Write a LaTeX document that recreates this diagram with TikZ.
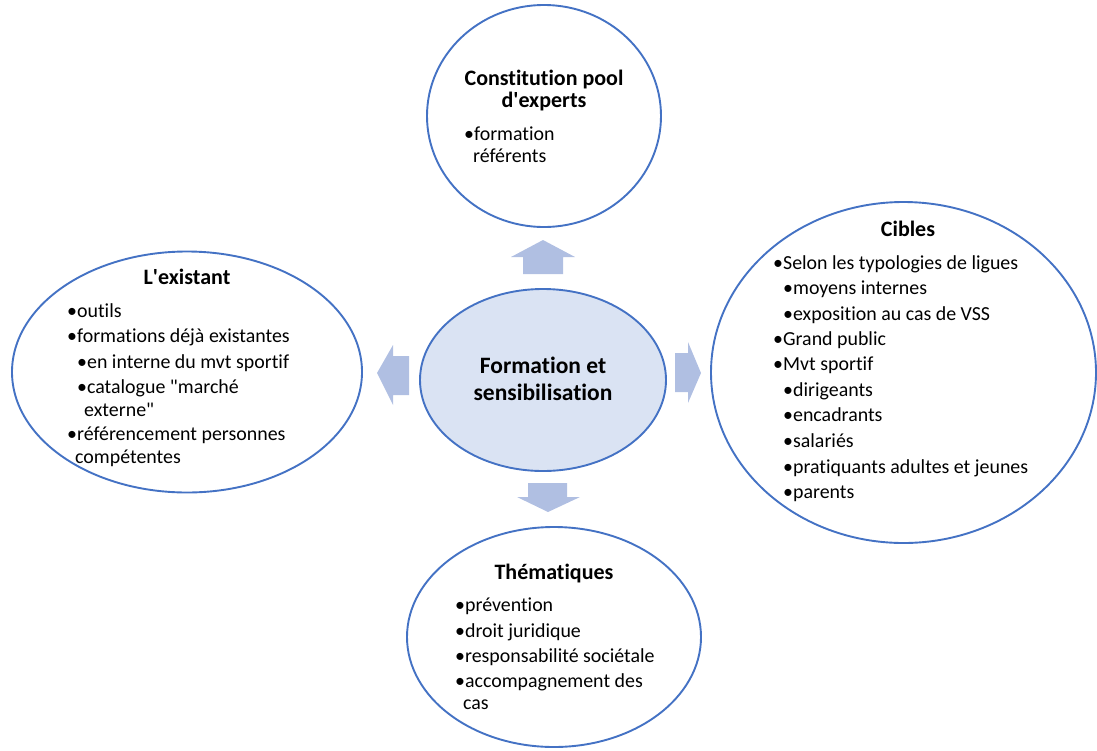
\documentclass[tikz,border=0pt]{standalone}
\usepackage{fontspec}
\setmainfont{Carlito}[Ligatures={NoCommon}]
\usetikzlibrary{shapes.geometric}
\definecolor{edgeblue}{HTML}{4472C4}
\definecolor{centerfill}{HTML}{DAE3F3}
\definecolor{arrowfill}{HTML}{B0BFE2}
\tikzset{
  bubble/.style={ellipse, draw=edgeblue, line width=1.9pt, fill=white, inner sep=0pt},
  hub/.style={ellipse, draw=edgeblue, line width=1.9pt, fill=centerfill, inner sep=0pt},
  blockarrow/.style={fill=arrowfill, draw=none},
  txt/.style={anchor=base west, inner sep=0pt, font=\fontsize{19.9}{22.5}\selectfont},
  ttl/.style={anchor=base, inner sep=0pt, font=\fontsize{22}{24}\selectfont\bfseries},
  hubttl/.style={anchor=base, inner sep=0pt, font=\fontsize{23.5}{27}\selectfont\bfseries}
}
\begin{document}
\begin{tikzpicture}[x=1pt,y=-1pt]
\useasboundingbox (0,0) rectangle (1097,750);
% ellipses
\node[hub, minimum width=246pt, minimum height=182pt] (hubnode) at (543,380) {};
\node[bubble, minimum width=234pt, minimum height=222pt] (top) at (544,116) {};
\node[bubble, minimum width=350pt, minimum height=241pt] (left) at (187,372) {};
\node[bubble, minimum width=385pt, minimum height=341pt] (right) at (903.5,372.5) {};
\node[bubble, minimum width=294pt, minimum height=220pt] (bottom) at (554,637) {};
% block arrows
\fill[blockarrow] (543,240) -- (575,257) -- (563,257) -- (563,274) -- (523,274) -- (523,257) -- (511,257) -- cycle;
\fill[blockarrow] (548,512) -- (580,497) -- (567,497) -- (567,483) -- (528,483) -- (528,497) -- (517,497) -- cycle;
\fill[blockarrow] (377,373) -- (393,345) -- (393,356) -- (409,356) -- (409,395) -- (393,395) -- (393,405) -- cycle;
\fill[blockarrow] (701,373) -- (688,342) -- (688,353) -- (675,353) -- (675,392) -- (688,392) -- (688,403) -- cycle;
% centre
\node[hubttl] (h1) at (543,373) {Formation et};
\node[hubttl] (h2) at (543,400) {sensibilisation};
% top
\node[ttl] (t1) at (544,85) {Constitution pool};
\node[ttl] (t2) at (544,107) {d\textquotesingle experts};
\node[txt] (t3) at (464,140) {•formation};
\node[txt] (t4) at (473,162) {référents};
% left
\node[ttl] (l0) at (187,284) {L\textquotesingle existant};
\node[txt] (l1) at (67,317) {•outils};
\node[txt] (l2) at (67,342) {•formations déjà existantes};
\node[txt] (l3) at (77,368) {•en interne du mvt sportif};
\node[txt] (l4) at (77,393) {•catalogue \textquotedbl marché};
\node[txt] (l5) at (84,416) {externe\textquotedbl};
\node[txt] (l6) at (67,440) {•référencement personnes};
\node[txt] (l7) at (75,463) {compétentes};
% right
\node[ttl] (r0) at (908,236) {Cibles};
\node[txt] (r1) at (773,269) {•Selon les typologies de ligues};
\node[txt] (r2) at (783,294) {•moyens internes};
\node[txt] (r3) at (783,320) {•exposition au cas de VSS};
\node[txt] (r4) at (773,345) {•Grand public};
\node[txt] (r5) at (773,370) {•Mvt sportif};
\node[txt] (r6) at (783,396) {•dirigeants};
\node[txt] (r7) at (783,421) {•encadrants};
\node[txt] (r8) at (783,447) {•salariés};
\node[txt] (r9) at (783,473) {•pratiquants adultes et jeunes};
\node[txt] (r10) at (783,498) {•parents};
% bottom
\node[ttl] (b0) at (554,579) {Thématiques};
\node[txt] (b1) at (455,611) {•prévention};
\node[txt] (b2) at (455,637) {•droit juridique};
\node[txt] (b3) at (455,662) {•responsabilité sociétale};
\node[txt] (b4) at (455,687) {•accompagnement des};
\node[txt] (b5) at (463,709) {cas};
\end{tikzpicture}
\end{document}
